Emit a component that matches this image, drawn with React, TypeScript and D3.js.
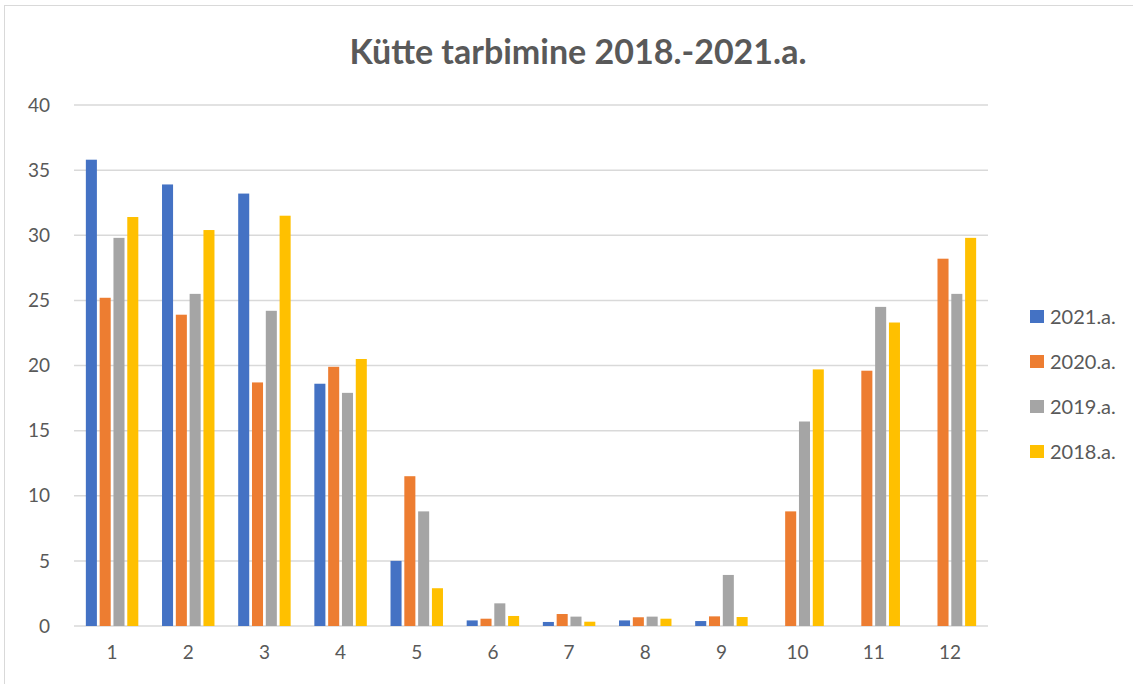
import React from "react";
import { scaleBand, scaleLinear } from "d3";

const months = ["1", "2", "3", "4", "5", "6", "7", "8", "9", "10", "11", "12"];
const seriesNames = ["2021.a.", "2020.a.", "2019.a.", "2018.a."];
const colors = ["#4472C4", "#ED7D31", "#A5A5A5", "#FFC000"];

const v2021 = [35.8, 33.9, 33.2, 18.6, 5.0, 0.43, 0.31, 0.43, 0.38, 0, 0, 0];
const v2020 = [25.2, 23.9, 18.7, 19.9, 11.5, 0.56, 0.92, 0.67, 0.74, 8.8, 19.6, 28.2];
const v2019 = [29.8, 25.5, 24.2, 17.9, 8.8, 1.74, 0.72, 0.72, 3.92, 15.7, 24.5, 25.5];
const v2018 = [31.4, 30.4, 31.5, 20.5, 2.9, 0.77, 0.33, 0.56, 0.69, 19.7, 23.3, 29.8];
const seriesValues = [v2021, v2020, v2019, v2018];

const yTicks = [0, 5, 10, 15, 20, 25, 30, 35, 40];

const W = 1133;
const H = 684;
const plotLeft = 74;
const plotRight = 988;
const plotTop = 105;
const plotBottom = 626;
const font = "Lato, 'Noto Sans', sans-serif";
const textColor = "#595959";

export default function App() {
  const x0 = scaleBand()
    .domain(months)
    .range([plotLeft, plotRight])
    .paddingInner(0.275)
    .paddingOuter(0.1375);
  const x1 = scaleBand()
    .domain(seriesNames)
    .range([0, x0.bandwidth()])
    .paddingInner(0.2)
    .paddingOuter(0.1);
  const y = scaleLinear().domain([0, 40]).range([plotBottom, plotTop]);

  return (
    <svg
      width={W}
      height={H}
      style={{ position: "absolute", left: 0, top: 0, background: "#fff" }}
    >
      {/* chart frame */}
      <rect x={4.5} y={5.5} width={W + 20} height={H + 20} fill="#fff" stroke="#d9d9d9" />

      <text
        x={578}
        y={64}
        textAnchor="middle"
        fontFamily={font}
        fontWeight="bold"
        fontSize={34}
        fill={textColor}
      >
        Kütte tarbimine 2018.-2021.a.
      </text>

      {yTicks.map((t) => (
        <g key={t}>
          <line
            x1={plotLeft}
            x2={plotRight}
            y1={y(t)}
            y2={y(t)}
            stroke="#d9d9d9"
            strokeWidth={1.5}
          />
          <text
            x={50}
            y={y(t)}
            dy="0.35em"
            textAnchor="end"
            fontFamily={font}
            fontSize={19}
            fill={textColor}
          >
            {t}
          </text>
        </g>
      ))}

      {months.map((m, i) => (
        <g key={m} transform={`translate(${x0(m)},0)`}>
          {seriesNames.map((s, j) => {
            const v = seriesValues[j][i];
            if (!v) return null;
            return (
              <rect
                key={s}
                x={x1(s)}
                y={y(v)}
                width={x1.bandwidth()}
                height={y(0) - y(v)}
                fill={colors[j]}
              />
            );
          })}
          <text
            x={x0.bandwidth() / 2}
            y={659}
            textAnchor="middle"
            fontFamily={font}
            fontSize={19}
            fill={textColor}
          >
            {m}
          </text>
        </g>
      ))}

      {seriesNames.map((s, j) => (
        <g key={s} transform={`translate(1030,${310 + j * 45})`}>
          <rect width={14} height={13} fill={colors[j]} />
          <text x={20} y={7} dy="0.35em" fontFamily={font} fontSize={20} fill={textColor}>
            {s}
          </text>
        </g>
      ))}
    </svg>
  );
}
